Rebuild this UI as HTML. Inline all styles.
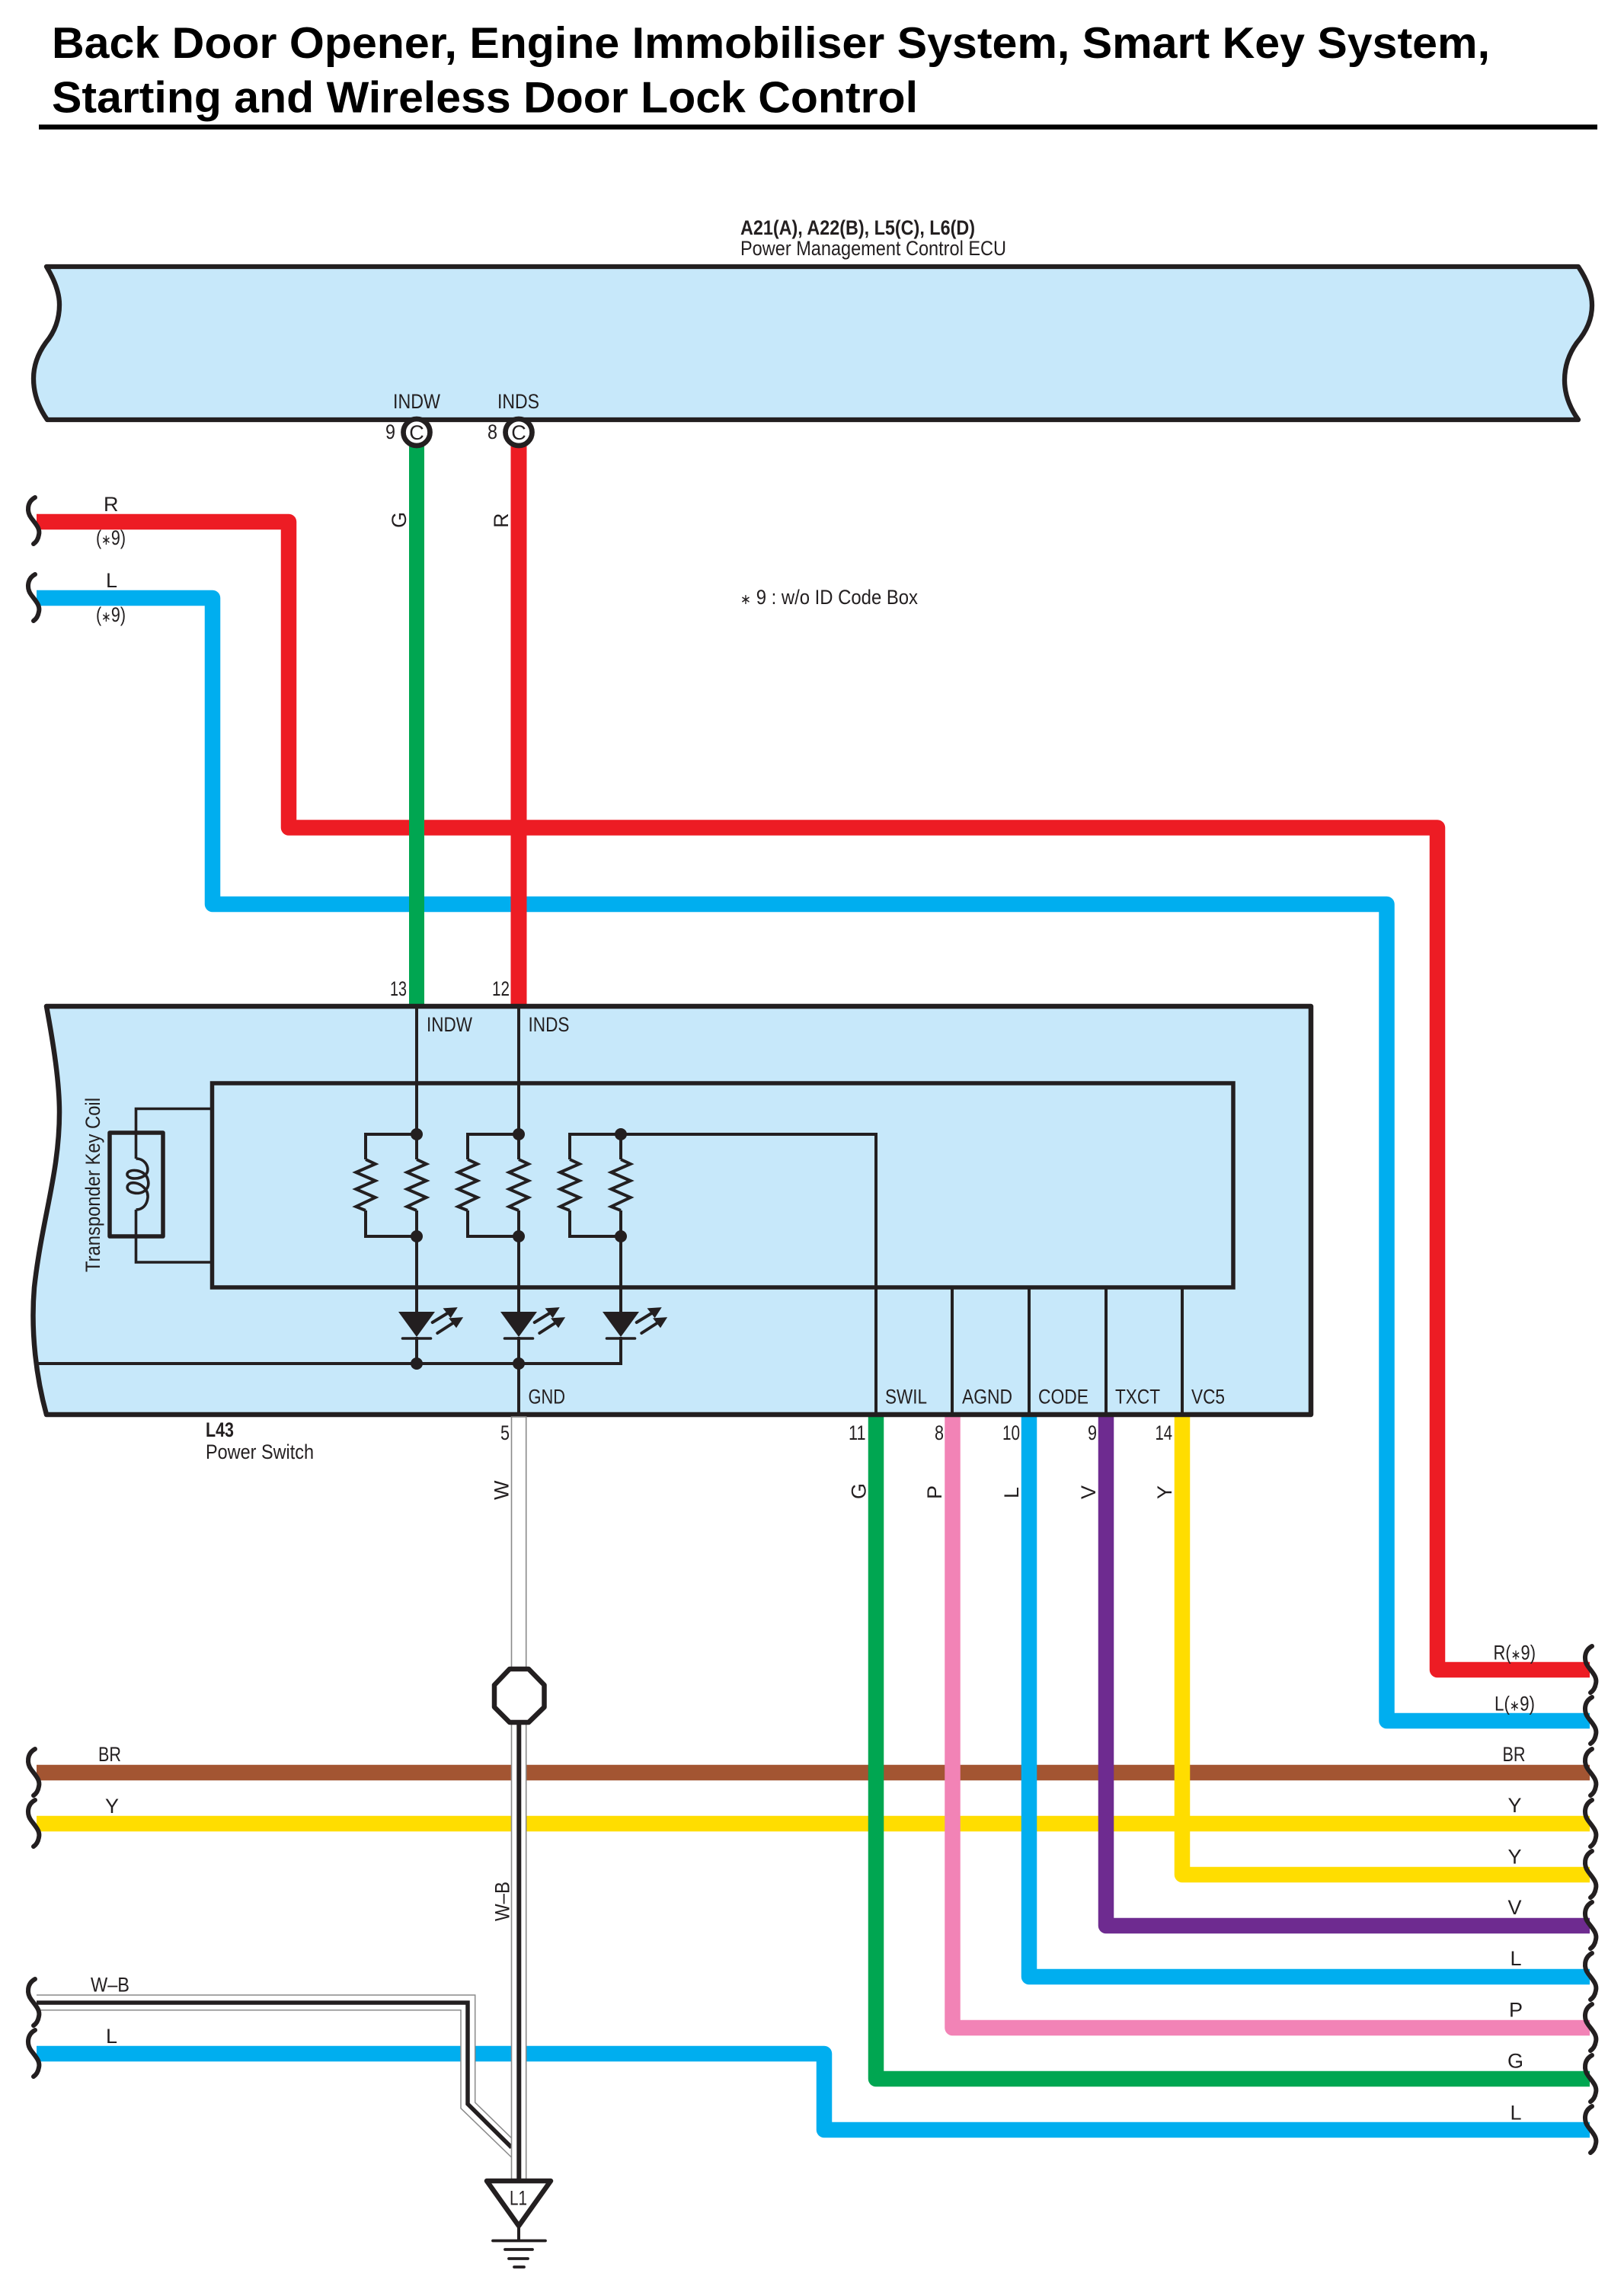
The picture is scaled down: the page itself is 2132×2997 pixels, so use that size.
<!DOCTYPE html>
<html><head><meta charset="utf-8"><title>Back Door Opener Wiring Diagram</title>
<style>
html,body{margin:0;padding:0;background:#fff}
svg{display:block}
text{font-family:"Liberation Sans","DejaVu Sans",sans-serif;font-size:27px;fill:#231F20}
.b{font-weight:bold}
.t{font-weight:bold;font-size:57.5px;fill:#000}
.m{text-anchor:middle}
.w{fill:none;stroke-width:20.5;stroke-linejoin:round}
.l{fill:none;stroke:#231F20;stroke-width:4}
.k{fill:none;stroke:#231F20;stroke-width:6}
.a{font-size:19px}
</style></head><body>
<svg xmlns="http://www.w3.org/2000/svg" width="2132" height="2997" viewBox="0 0 2132 2997">
<defs>
<path id="sq" d="M1,-31 C-10,-25 -10,-12 -4,-4 C2,4 8,10 6,18 C5,24 2,28 -1,30" fill="none" stroke="#231F20" stroke-width="6" stroke-linecap="round"/>
<g id="res"><polyline points="0,1522 12.7,1528 -12.7,1539 12.7,1550 -12.7,1561 12.7,1572 -12.7,1584 0,1589" fill="none" stroke="#231F20" stroke-width="4"/></g>
<g id="led">
<polygon points="-24,1722 24,1722 0,1755" fill="#231F20"/>
<line x1="-18.5" y1="1757" x2="18.5" y2="1757" stroke="#231F20" stroke-width="3.6" stroke-linecap="round"/>
<line x1="20.7" y1="1736" x2="42" y2="1723" stroke="#231F20" stroke-width="4" stroke-linecap="round"/>
<polygon points="52.3,1717 36,1718 44.6,1729" fill="#231F20" stroke="#231F20" stroke-width="1.5"/>
<line x1="27.3" y1="1750" x2="49" y2="1736" stroke="#231F20" stroke-width="4" stroke-linecap="round"/>
<polygon points="59.7,1730 43.5,1731 52,1742" fill="#231F20" stroke="#231F20" stroke-width="1.5"/>
</g>
</defs>

<!-- title -->
<text class="t" x="68" y="76" textLength="1888" lengthAdjust="spacingAndGlyphs">Back Door Opener, Engine Immobiliser System, Smart Key System,</text>
<text class="t" x="68" y="147.5" textLength="1137" lengthAdjust="spacingAndGlyphs">Starting and Wireless Door Lock Control</text>
<rect x="51" y="163.5" width="2046" height="6.5" fill="#000"/>

<!-- ECU -->
<text class="b" x="972" y="308" textLength="308" lengthAdjust="spacingAndGlyphs">A21(A), A22(B), L5(C), L6(D)</text>
<text x="972" y="335" textLength="349" lengthAdjust="spacingAndGlyphs">Power Management Control ECU</text>
<path d="M61,350 C72,368 78,384 78,400 C78,422 70,438 60,450 C50,464 44,480 44,497 C44,516 50,534 62,551 L2072,551 C2060,534 2054,516 2054,499 C2054,480 2060,464 2070,450 C2082,436 2090,420 2090,401 C2090,384 2084,368 2072,350 Z" fill="#C7E8FA" stroke="#231F20" stroke-width="6.3" stroke-linejoin="round"/>
<text x="516" y="536" textLength="62" lengthAdjust="spacingAndGlyphs">INDW</text>
<text x="653" y="536" textLength="55" lengthAdjust="spacingAndGlyphs">INDS</text>

<!-- background wires -->
<polyline class="w" stroke="#ED1C24" points="48,685 379,685 379,1086.5 1887,1086.5 1887,2192 2087,2192"/>
<polyline class="w" stroke="#00AEEF" points="48,785 279,785 279,1187 1820.5,1187 1820.5,2259 2087,2259"/>
<line class="w" stroke="#A35532" x1="48" y1="2327" x2="2087" y2="2327"/>
<line class="w" stroke="#FFDD00" x1="48" y1="2394" x2="2087" y2="2394"/>
<polyline class="w" stroke="#00AEEF" points="48,2696 1082,2696 1082,2796 2087,2796"/>

<!-- top verticals -->
<line stroke="#00A651" stroke-width="20" x1="547" y1="585" x2="547" y2="1321"/>
<line stroke="#ED1C24" stroke-width="21" x1="681" y1="585" x2="681" y2="1321"/>

<!-- bottom coloured wires -->
<polyline class="w" stroke="#00A651" points="1150,1857 1150,2729 2087,2729"/>
<polyline class="w" stroke="#F283B6" points="1250.5,1857 1250.5,2662 2087,2662"/>
<polyline class="w" stroke="#00AEEF" points="1351,1857 1351,2595 2087,2595"/>
<polyline class="w" stroke="#6E2B90" points="1452,1857 1452,2528 2087,2528"/>
<polyline class="w" stroke="#FFDD00" points="1552,1857 1552,2461 2087,2461"/>

<!-- connectors C -->
<circle cx="547" cy="567.5" r="17.5" fill="#fff" stroke="#231F20" stroke-width="6.7"/>
<circle cx="681" cy="567.5" r="17.5" fill="#fff" stroke="#231F20" stroke-width="6.7"/>
<text class="m" x="547" y="577">C</text>
<text class="m" x="681" y="577">C</text>
<text x="506" y="576" textLength="13" lengthAdjust="spacingAndGlyphs">9</text>
<text x="640" y="576" textLength="13" lengthAdjust="spacingAndGlyphs">8</text>
<text transform="translate(533,693) rotate(-90)">G</text>
<text transform="translate(667,693) rotate(-90)">R</text>

<text x="136" y="671">R</text>
<text x="126" y="715" textLength="39" lengthAdjust="spacingAndGlyphs">(<tspan class="a">∗</tspan>9)</text>
<text x="139" y="771">L</text>
<text x="126" y="816" textLength="39" lengthAdjust="spacingAndGlyphs">(<tspan class="a">∗</tspan>9)</text>
<text x="972" y="793" textLength="233" lengthAdjust="spacingAndGlyphs"><tspan class="a">∗</tspan> 9 : w/o ID Code Box</text>

<!-- Power switch box -->
<path d="M61,1321 L1721,1321 L1721,1857 L61,1857 C48,1810 40,1750 45,1690 C55,1600 78,1540 78,1460 C78,1420 70,1370 61,1321 Z" fill="#C7E8FA" stroke="#231F20" stroke-width="6.5" stroke-linejoin="round"/>
<rect x="278.5" y="1422" width="1340.5" height="268" fill="none" stroke="#231F20" stroke-width="5.5"/>

<g class="lines">
<line class="l" x1="547" y1="1321" x2="547" y2="1522"/>
<line class="l" x1="547" y1="1589" x2="547" y2="1722"/>
<line class="l" x1="547" y1="1755" x2="547" y2="1790"/>
<line class="l" x1="681" y1="1321" x2="681" y2="1522"/>
<line class="l" x1="681" y1="1589" x2="681" y2="1722"/>
<line class="l" x1="681" y1="1755" x2="681" y2="1857"/>
<line class="l" x1="815" y1="1489" x2="815" y2="1522"/>
<line class="l" x1="815" y1="1589" x2="815" y2="1722"/>
<polyline class="l" points="815,1755 815,1790 46,1790"/>
<polyline class="l" points="547,1489 480,1489 480,1522"/>
<polyline class="l" points="480,1589 480,1623 547,1623"/>
<polyline class="l" points="681,1489 614,1489 614,1522"/>
<polyline class="l" points="614,1589 614,1623 681,1623"/>
<polyline class="l" points="1150,1857 1150,1489 748,1489 748,1522"/>
<polyline class="l" points="748,1589 748,1623 815,1623"/>
<line class="l" x1="1250" y1="1690" x2="1250" y2="1857"/>
<line class="l" x1="1351" y1="1690" x2="1351" y2="1857"/>
<line class="l" x1="1452" y1="1690" x2="1452" y2="1857"/>
<line class="l" x1="1552" y1="1690" x2="1552" y2="1857"/>
</g>
<use href="#res" x="480"/><use href="#res" x="547"/>
<use href="#res" x="614"/><use href="#res" x="681"/>
<use href="#res" x="748"/><use href="#res" x="815"/>
<use href="#led" x="547"/><use href="#led" x="681"/><use href="#led" x="815"/>
<g fill="#231F20">
<circle cx="547" cy="1489" r="8"/><circle cx="681" cy="1489" r="8"/><circle cx="815" cy="1489" r="8"/>
<circle cx="547" cy="1623" r="8"/><circle cx="681" cy="1623" r="8"/><circle cx="815" cy="1623" r="8"/>
<circle cx="547" cy="1790" r="8"/><circle cx="681" cy="1790" r="8"/>
</g>

<!-- coil -->
<rect x="144" y="1487" width="70" height="136" fill="none" stroke="#231F20" stroke-width="5.5" stroke-linejoin="round"/>
<polyline fill="none" stroke="#231F20" stroke-width="3.6" points="278,1455.5 178.5,1455.5 178.5,1521"/>
<polyline fill="none" stroke="#231F20" stroke-width="3.6" points="178.5,1588 178.5,1657 278,1657"/>
<path d="M178.5,1521 C192,1521 197,1535 192,1541 C186,1549 166,1549 167,1541 C168,1534 190,1534 194,1548 C198,1562 186,1568 176,1566 C165,1564 165,1555 172,1553 C182,1551 195,1560 194,1572 C193,1582 187,1588 178.5,1588" fill="none" stroke="#231F20" stroke-width="3.6"/>
<text transform="translate(131,1670) rotate(-90)" textLength="229" lengthAdjust="spacingAndGlyphs">Transponder Key Coil</text>

<!-- box labels -->
<text x="512" y="1307" textLength="22" lengthAdjust="spacingAndGlyphs">13</text>
<text x="646" y="1307" textLength="23" lengthAdjust="spacingAndGlyphs">12</text>
<text x="560" y="1354" textLength="60" lengthAdjust="spacingAndGlyphs">INDW</text>
<text x="693.5" y="1354" textLength="54" lengthAdjust="spacingAndGlyphs">INDS</text>
<text x="693.5" y="1842.5" textLength="48.5" lengthAdjust="spacingAndGlyphs">GND</text>
<text x="1162" y="1842.5" textLength="55" lengthAdjust="spacingAndGlyphs">SWIL</text>
<text x="1263" y="1842.5" textLength="66" lengthAdjust="spacingAndGlyphs">AGND</text>
<text x="1363" y="1842.5" textLength="66" lengthAdjust="spacingAndGlyphs">CODE</text>
<text x="1464" y="1842.5" textLength="59" lengthAdjust="spacingAndGlyphs">TXCT</text>
<text x="1564" y="1842.5" textLength="44" lengthAdjust="spacingAndGlyphs">VC5</text>
<text class="b" x="270" y="1886" textLength="37" lengthAdjust="spacingAndGlyphs">L43</text>
<text x="270" y="1915" textLength="142" lengthAdjust="spacingAndGlyphs">Power Switch</text>
<text x="657" y="1890" textLength="12" lengthAdjust="spacingAndGlyphs">5</text>
<text x="1114" y="1890" textLength="22.5" lengthAdjust="spacingAndGlyphs">11</text>
<text x="1227" y="1890" textLength="12" lengthAdjust="spacingAndGlyphs">8</text>
<text x="1316" y="1890" textLength="23" lengthAdjust="spacingAndGlyphs">10</text>
<text x="1428" y="1890" textLength="12" lengthAdjust="spacingAndGlyphs">9</text>
<text x="1516.5" y="1890" textLength="22.5" lengthAdjust="spacingAndGlyphs">14</text>
<text transform="translate(667.6,1969) rotate(-90)">W</text>
<text transform="translate(1136.5,1968) rotate(-90)">G</text>
<text transform="translate(1236,1968) rotate(-90)">P</text>
<text transform="translate(1337,1967) rotate(-90)">L</text>
<text transform="translate(1438,1968) rotate(-90)">V</text>
<text transform="translate(1538,1968) rotate(-90)">Y</text>

<!-- W-B wires -->
<path d="M48,2619 L623.7,2619 L623.7,2760 L671.5,2806.7 L671.5,2832 L605,2767.7 L605,2638.7 L48,2638.7 Z" fill="#fff" stroke="none"/>
<polyline fill="none" stroke="#8a8a8a" stroke-width="1.5" points="48,2619 623.7,2619 623.7,2760 671.5,2806.7"/>
<polyline fill="none" stroke="#8a8a8a" stroke-width="1.5" points="48,2638.7 605,2638.7 605,2767.7 671.5,2832"/>
<polyline fill="none" stroke="#231F20" stroke-width="5.5" points="48,2629 614,2629 614,2762 671.5,2819"/>
<rect x="671.5" y="1860" width="19.2" height="1003" fill="#fff" stroke="#8a8a8a" stroke-width="1.6"/>
<line x1="681.3" y1="2262" x2="681.3" y2="2863" stroke="#231F20" stroke-width="6"/>
<polygon points="669,2191 694,2191 714.5,2212 714.5,2241 694,2261 669,2261 649,2241 649,2212" fill="#fff" stroke="#231F20" stroke-width="6.5" stroke-linejoin="round"/>
<text transform="translate(668.7,2522) rotate(-90)" textLength="52" lengthAdjust="spacingAndGlyphs">W–B</text>

<!-- ground -->
<polygon points="639,2863 723,2863 681,2922" fill="#fff" stroke="#231F20" stroke-width="6.5" stroke-linejoin="round"/>
<text x="669" y="2894.5" textLength="23" lengthAdjust="spacingAndGlyphs">L1</text>
<line class="l" x1="681" y1="2922" x2="681" y2="2941.5"/>
<g stroke="#231F20" stroke-width="3.8" stroke-linecap="round">
<line x1="647" y1="2941.5" x2="716" y2="2941.5"/>
<line x1="663" y1="2953" x2="699" y2="2953"/>
<line x1="668" y1="2965" x2="693" y2="2965"/>
<line x1="675" y1="2976" x2="688" y2="2976"/>
</g>

<!-- left labels -->
<text x="129" y="2312" textLength="30" lengthAdjust="spacingAndGlyphs">BR</text>
<text x="138" y="2380">Y</text>
<text x="119" y="2614.5" textLength="51" lengthAdjust="spacingAndGlyphs">W–B</text>
<text x="139" y="2682">L</text>

<!-- right labels -->
<text x="1960.5" y="2178.5" textLength="55.5" lengthAdjust="spacingAndGlyphs">R(<tspan class="a">∗</tspan>9)</text>
<text x="1962" y="2245.5" textLength="53" lengthAdjust="spacingAndGlyphs">L(<tspan class="a">∗</tspan>9)</text>
<text x="1972.5" y="2312" textLength="30" lengthAdjust="spacingAndGlyphs">BR</text>
<text x="1979.5" y="2379">Y</text>
<text x="1979.5" y="2446.5">Y</text>
<text x="1979.5" y="2513">V</text>
<text x="1982.5" y="2580">L</text>
<text x="1981" y="2647.5">P</text>
<text x="1979" y="2714.5">G</text>
<text x="1982.5" y="2782.5">L</text>

<!-- squiggles -->
<use href="#sq" x="45" y="684"/><use href="#sq" x="45" y="785"/>
<use href="#sq" x="45" y="2327"/><use href="#sq" x="45" y="2394"/>
<use href="#sq" x="45" y="2629"/><use href="#sq" x="45" y="2696"/>
<use href="#sq" x="2089" y="2192"/><use href="#sq" x="2089" y="2259"/>
<use href="#sq" x="2089" y="2327"/><use href="#sq" x="2089" y="2394"/>
<use href="#sq" x="2089" y="2461"/><use href="#sq" x="2089" y="2528"/>
<use href="#sq" x="2089" y="2595"/><use href="#sq" x="2089" y="2662"/>
<use href="#sq" x="2089" y="2729"/><use href="#sq" x="2089" y="2796"/>
</svg>
</body></html>
